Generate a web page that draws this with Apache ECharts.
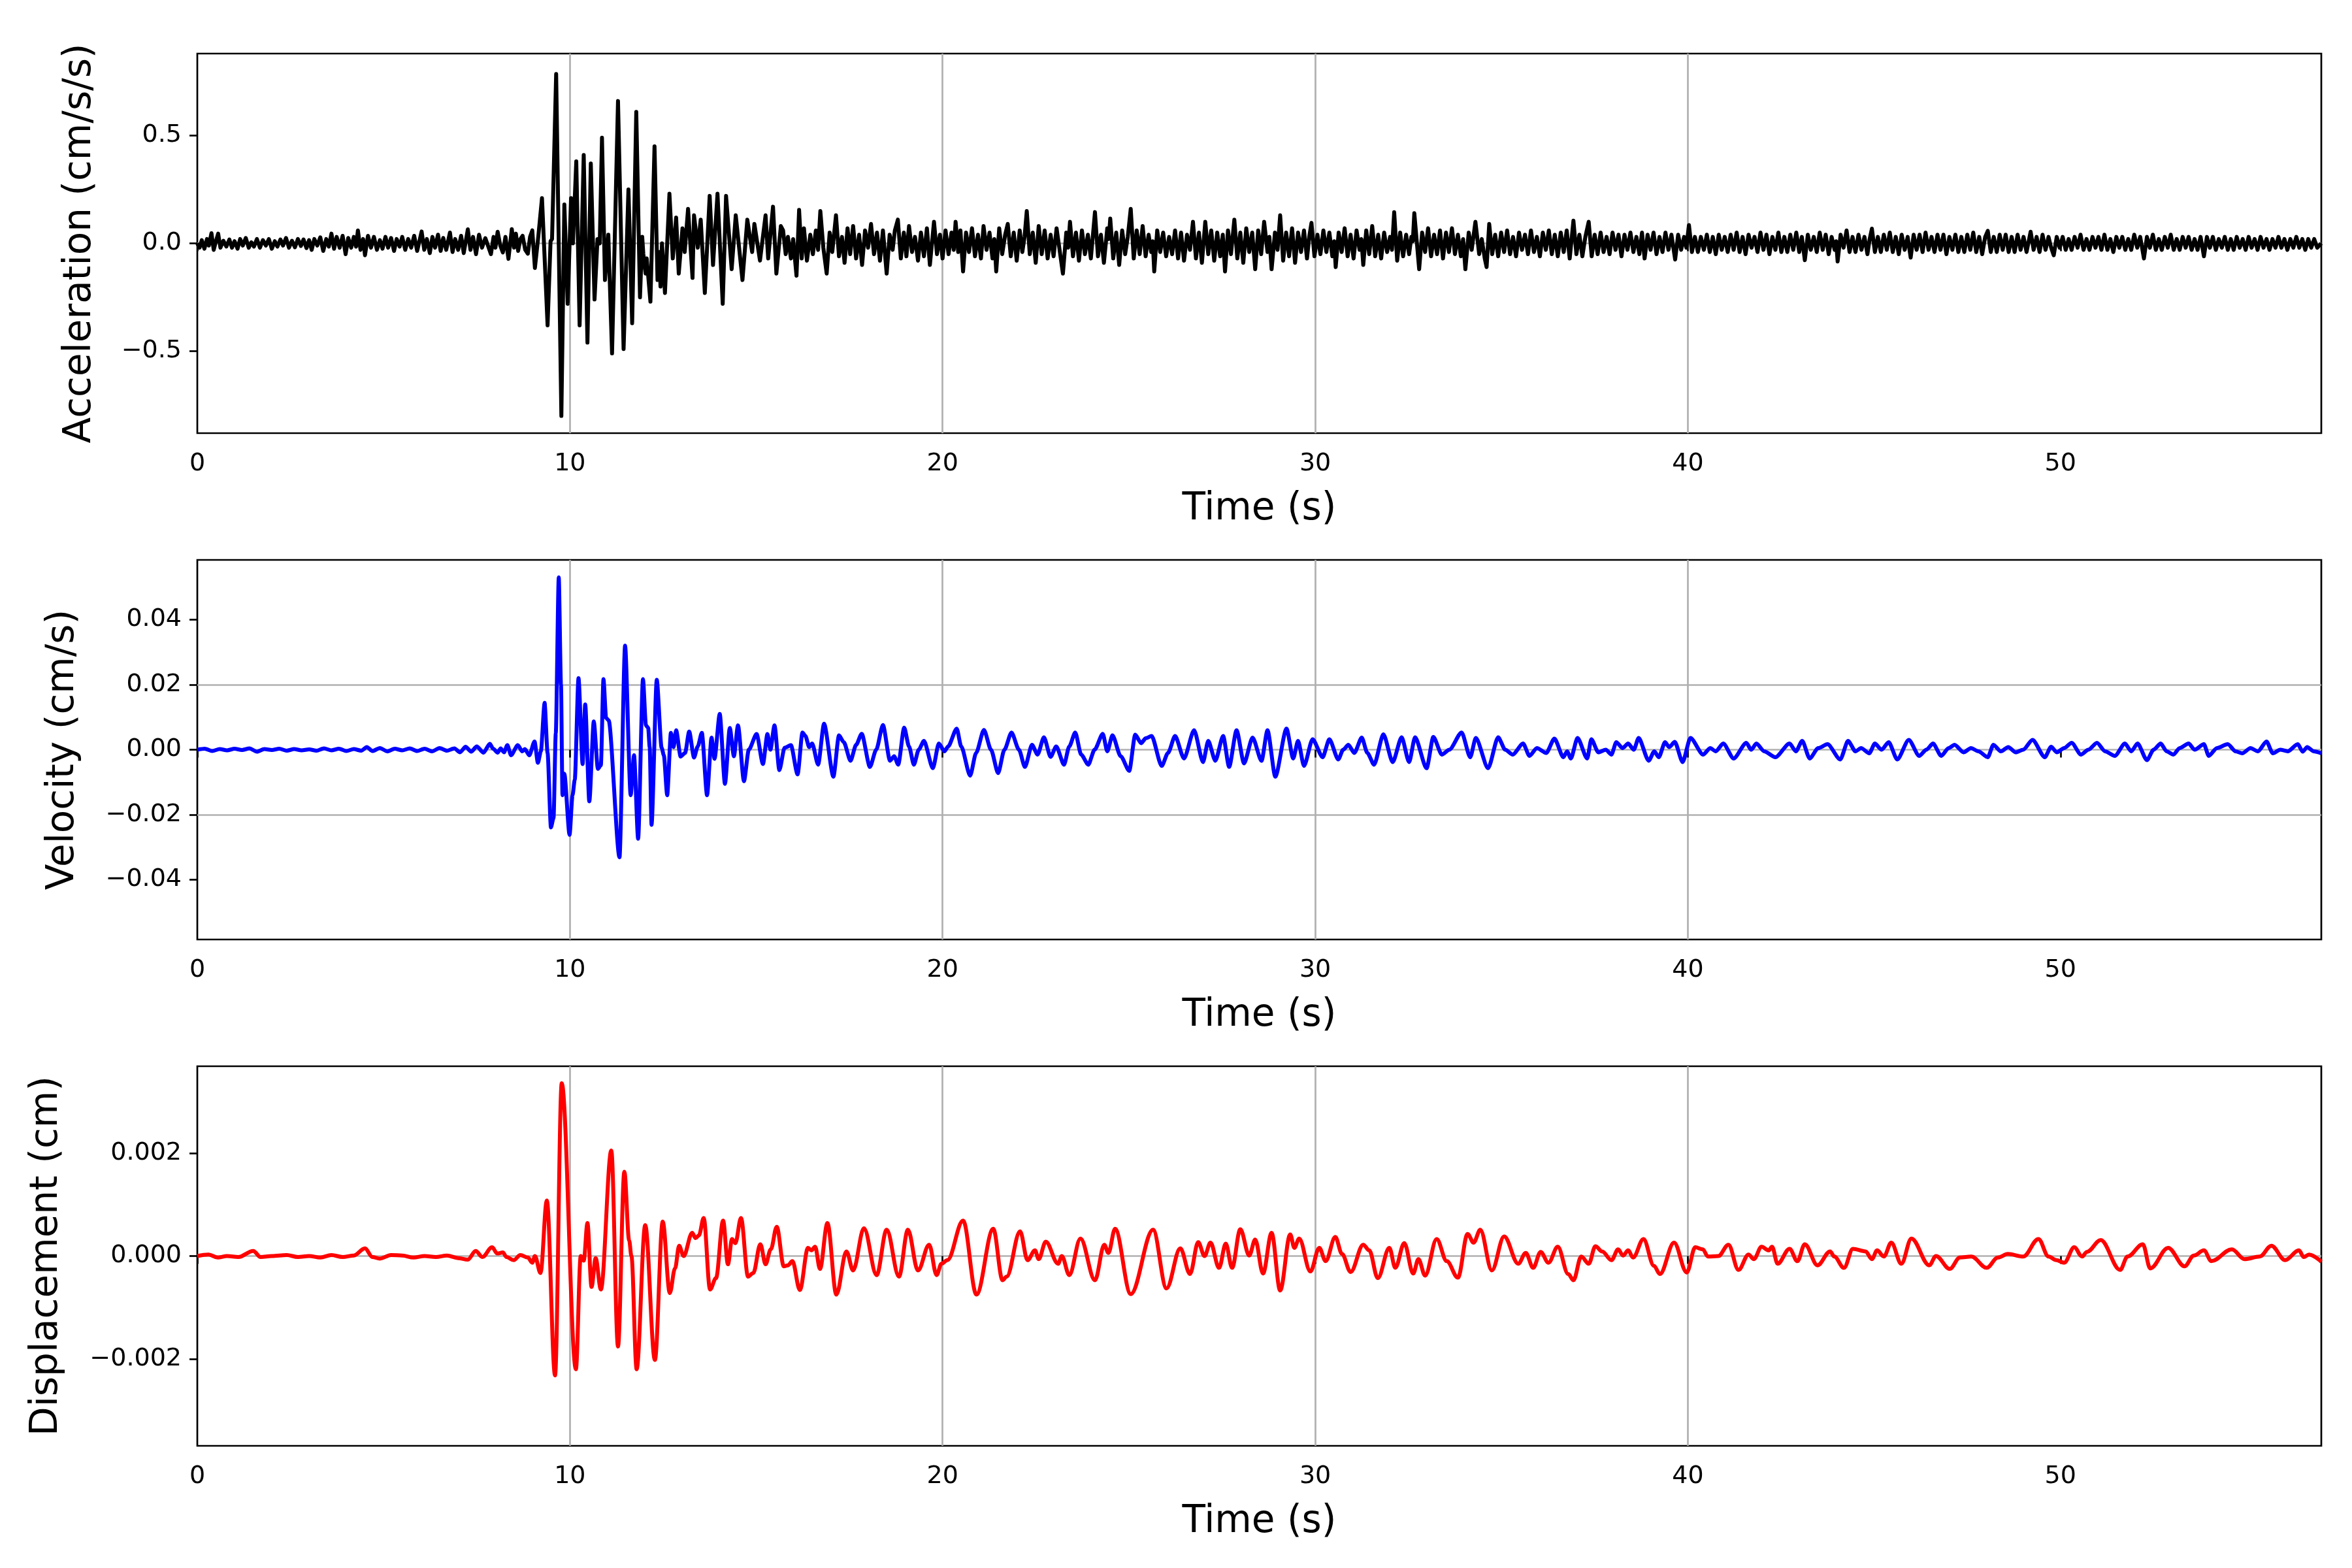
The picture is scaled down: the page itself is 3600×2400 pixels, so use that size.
<!DOCTYPE html>
<html><head><meta charset="utf-8">
<script src="https://cdn.jsdelivr.net/npm/echarts@6/dist/echarts.min.js"></script>
<style>html,body{margin:0;padding:0;background:#fff}#c{width:3600px;height:2400px}</style>
</head><body><div id="c"></div><script>
// ---- tick labels ----
const xTicks = [0,10,20,30,40,50];
const accTicks = [-0.5,0,0.5];
const velTicks = [-0.04,-0.02,0,0.02,0.04];
const dispTicks = [-0.002,0,0.002];

// ---- acceleration (cm/s/s): [time s, value] ----
const accPre = [[0,0],[0.06,-0.02],[0.12,0.015],[0.19,-0.025],[0.26,0.02],[0.31,-0.01],[0.38,0.047],[0.44,-0.03],[0.5,0.01],[0.56,0.045],[0.62,-0.02],[0.7,0.012],[0.78,-0.015],[0.86,0.018],[0.93,-0.02],[1,0.01],[1.08,-0.025],[1.15,0.02],[1.22,-0.01],[1.3,0.025],[1.38,-0.02],[1.45,0.005],[1.52,-0.015],[1.6,0.02],[1.68,-0.02],[1.76,0.015],[1.84,-0.01],[1.92,0.02],[2,-0.025],[2.08,0.01],[2.15,-0.015],[2.23,0.018],[2.3,-0.01],[2.38,0.025],[2.46,-0.02],[2.54,0.012],[2.62,-0.018],[2.7,0.02],[2.78,-0.012],[2.85,0.018],[2.93,-0.022],[3,0.015],[3.07,-0.03],[3.14,0.02],[3.22,-0.01],[3.3,0.028],[3.38,-0.035],[3.46,0.02],[3.53,-0.015],[3.6,0.045],[3.67,-0.025],[3.74,0.03],[3.82,-0.02],[3.9,0.035],[3.98,-0.05],[4.05,0.025],[4.13,-0.02],[4.2,0.03],[4.26,-0.015],[4.31,0.06],[4.38,-0.03],[4.45,0.02],[4.5,-0.055],[4.58,0.035],[4.66,-0.02],[4.74,0.03],[4.82,-0.03],[4.9,0.015],[4.97,-0.025],[5.05,0.03],[5.12,-0.02],[5.2,0.025],[5.28,-0.035],[5.35,0.02],[5.43,-0.015],[5.5,0.03],[5.58,-0.03],[5.66,0.02],[5.74,-0.02],[5.82,0.035],[5.9,-0.035],[5.96,0.01],[6.02,0.055],[6.09,-0.03],[6.16,0.02],[6.24,-0.045],[6.31,0.03],[6.38,-0.02],[6.46,0.04],[6.53,-0.035],[6.6,0.025],[6.68,-0.03],[6.78,0.05],[6.85,-0.04],[6.92,0.02],[7,-0.03],[7.08,0.035],[7.15,-0.045],[7.26,0.065],[7.33,-0.03],[7.4,0.03],[7.48,-0.05],[7.56,0.04],[7.64,-0.02],[7.73,0.024],[7.88,-0.05],[7.95,0.03],[8,-0.02],[8.06,0.054],[8.13,-0.01],[8.2,-0.042],[8.27,0.03],[8.35,-0.072],[8.44,0.066],[8.5,-0.02],[8.55,0.045],[8.61,-0.035],[8.67,0.02],[8.73,0.035],[8.8,-0.03],[8.87,-0.048],[8.93,0.03],[8.99,0.06]];
const accBurst = [[9.06,-0.114],[9.15,0.03],[9.25,0.21],[9.4,-0.38],[9.48,0.01],[9.52,0.02],[9.63,0.785],[9.77,-0.8],[9.85,0.18],[9.94,-0.28],[10.03,0.21],[10.08,0],[10.17,0.38],[10.26,-0.38],[10.37,0.41],[10.47,-0.46],[10.56,0.37],[10.66,-0.26],[10.74,0.02],[10.8,0],[10.86,0.49],[10.94,-0.17],[11.03,0.04],[11.13,-0.51],[11.29,0.66],[11.44,-0.49],[11.57,0.25],[11.67,-0.37],[11.78,0.61],[11.88,-0.25],[11.94,0.03],[11.97,-0.05],[12.03,-0.14],[12.06,-0.07],[12.16,-0.27],[12.27,0.45],[12.35,-0.17],[12.4,-0.04],[12.43,-0.2],[12.47,0],[12.55,-0.23],[12.67,0.23],[12.76,-0.07],[12.85,0.12],[12.92,-0.14],[13.02,0.07],[13.08,-0.04],[13.17,0.16],[13.29,-0.16],[13.33,0.13],[13.43,-0.02],[13.51,0.11],[13.62,-0.23],[13.75,0.22],[13.84,-0.1],[13.96,0.23],[14.1,-0.28],[14.19,0.22],[14.34,-0.12],[14.45,0.13],[14.63,-0.17],[14.76,0.11],[14.89,-0.04],[14.95,0.09],[15.1,-0.08],[15.25,0.13],[15.32,-0.07],[15.45,0.17],[15.54,-0.14],[15.66,0.08],[15.72,0.06],[15.79,-0.05],[15.85,0.03],[15.93,-0.07],[15.99,0.02],[16.08,-0.15],[16.15,0.155],[16.22,-0.07]];
const accPost = [[16.28,0.07],[16.36,-0.08],[16.45,0.04],[16.52,-0.05],[16.6,0.06],[16.66,-0.03],[16.72,0.15],[16.8,-0.02],[16.89,-0.14],[16.97,0.05],[17.04,-0.04],[17.14,0.13],[17.22,-0.06],[17.3,0.03],[17.37,-0.09],[17.45,0.07],[17.52,-0.05],[17.6,0.08],[17.68,-0.07],[17.76,0.04],[17.84,-0.1],[17.92,0.06],[18,-0.02],[18.08,0.09],[18.16,-0.05],[18.24,0.05],[18.32,-0.08],[18.4,0.06],[18.5,-0.14],[18.58,0.04],[18.66,-0.03],[18.72,0.06],[18.8,0.11],[18.88,-0.07],[18.96,0.05],[19.03,-0.06],[19.1,0.08],[19.18,-0.04],[19.26,0.03],[19.34,-0.08],[19.42,0.05],[19.5,-0.06],[19.58,0.07],[19.66,-0.1],[19.77,0.1],[19.85,-0.05],[19.93,0.04],[20,-0.07],[20.08,0.06],[20.16,-0.05],[20.24,0.05],[20.3,-0.03],[20.35,0.1],[20.42,-0.04],[20.48,0.06],[20.55,-0.13],[20.63,0.05],[20.71,-0.04],[20.79,0.07],[20.87,-0.06],[20.95,0.04],[21.03,-0.07],[21.1,0.08],[21.18,-0.03],[21.26,0.05],[21.34,-0.07],[21.39,0.02],[21.44,-0.13],[21.52,0.07],[21.6,-0.05],[21.68,0.04],[21.75,0.09],[21.83,-0.06],[21.91,0.05],[21.99,-0.08],[22.07,0.06],[22.14,-0.04],[22.2,0.03],[22.26,0.15],[22.34,-0.05],[22.42,0.05],[22.5,-0.09],[22.58,0.08],[22.66,-0.05],[22.74,0.06],[22.82,-0.07],[22.9,0.04],[22.98,-0.06],[23.06,0.07],[23.14,-0.03],[23.23,-0.14],[23.32,0.05],[23.37,-0.02],[23.42,0.1],[23.5,-0.06],[23.58,0.05],[23.66,-0.08],[23.74,0.06],[23.82,-0.05],[23.9,0.04],[23.98,-0.07],[24.09,0.145],[24.17,-0.06],[24.25,0.04],[24.33,-0.09],[24.42,0.07],[24.46,0.02],[24.5,0.115],[24.58,-0.07],[24.66,0.05],[24.74,-0.1],[24.82,0.06],[24.9,-0.05],[24.97,0.03],[25.05,0.16],[25.13,-0.07],[25.21,0.06],[25.29,-0.05],[25.37,0.08],[25.45,-0.06],[25.53,0.04],[25.6,-0.04],[25.64,0.01],[25.68,-0.13],[25.76,0.06],[25.84,-0.04],[25.92,0.05],[26,-0.06],[26.08,0.03],[26.16,-0.05],[26.24,0.06],[26.32,-0.07],[26.4,0.05],[26.48,-0.08],[26.56,0.04],[26.64,-0.03],[26.72,0.1],[26.8,-0.07],[26.88,0.05],[26.96,-0.09],[27.05,0.1],[27.13,-0.05],[27.21,0.06],[27.29,-0.08],[27.37,0.05],[27.45,-0.06],[27.52,0.04],[27.58,-0.13],[27.66,0.06],[27.74,-0.05],[27.83,0.11],[27.91,-0.07],[27.99,0.05],[28.07,-0.09],[28.15,0.07],[28.23,-0.04],[28.31,0.05],[28.39,-0.12],[28.47,0.06],[28.55,-0.05],[28.63,0.1],[28.72,-0.04],[28.77,0.03],[28.83,-0.12],[28.92,0.05],[28.99,-0.03],[29.06,0.13],[29.14,-0.08],[29.22,0.05],[29.3,-0.06],[29.38,0.07],[29.46,-0.09],[29.54,0.05],[29.62,-0.04],[29.7,0.06],[29.78,-0.07],[29.84,0.03],[29.9,0.095],[29.98,-0.06],[30.06,0.04],[30.14,-0.05],[30.22,0.06],[30.3,-0.04],[30.38,0.05],[30.46,-0.06],[30.51,0.01],[30.55,-0.11],[30.63,0.05],[30.71,-0.04],[30.79,0.07],[30.87,-0.06],[30.95,0.04],[31.03,-0.07],[31.11,0.06],[31.19,-0.03],[31.24,0.02],[31.29,-0.1],[31.37,0.06],[31.45,-0.05],[31.53,0.08],[31.61,-0.06],[31.69,0.04],[31.77,-0.07],[31.85,0.05],[31.93,-0.04],[32.01,0.03],[32.06,-0.03],[32.12,0.145],[32.2,-0.08],[32.28,0.05],[32.36,-0.06],[32.44,0.04],[32.52,-0.05],[32.58,0.03],[32.62,0.01],[32.66,0.14],[32.79,-0.12],[32.87,0.05],[32.95,-0.04],[33.03,0.07],[33.11,-0.06],[33.19,0.04],[33.27,-0.05],[33.35,0.06],[33.43,-0.07],[33.51,0.05],[33.59,-0.04],[33.67,0.07],[33.75,-0.05],[33.83,0.04],[33.91,-0.06],[33.97,0.02],[34.03,-0.12],[34.12,0.05],[34.2,-0.03],[34.3,0.1],[34.4,-0.05],[34.47,0.02],[34.55,-0.07],[34.6,-0.11],[34.67,0.09],[34.75,-0.05],[34.83,0.04],[34.91,-0.06],[34.99,0.05],[35.07,-0.04],[35.15,0.06],[35.23,-0.05],[35.31,0.03],[35.39,-0.06],[35.47,0.05],[35.55,-0.03],[35.63,0.04],[35.71,-0.05],[35.79,0.06],[35.87,-0.04],[35.95,0.03],[36.03,-0.06],[36.11,0.05],[36.19,-0.03],[36.27,0.06],[36.35,-0.05],[36.43,0.04],[36.51,-0.06],[36.59,0.05],[36.67,-0.04],[36.75,0.06],[36.83,-0.07],[36.93,0.105],[37.01,-0.05],[37.09,0.04],[37.17,-0.06],[37.25,0.03],[37.34,0.1],[37.42,-0.06],[37.5,0.04],[37.58,-0.05],[37.66,0.05],[37.74,-0.04],[37.82,0.03],[37.9,-0.05],[37.98,0.05],[38.06,-0.03],[38.14,0.04],[38.22,-0.06],[38.3,0.04],[38.38,-0.03],[38.46,0.05],[38.54,-0.04],[38.62,0.03],[38.7,-0.05],[38.77,0.05],[38.84,-0.07],[38.92,0.04],[39,-0.03],[39.08,0.05],[39.16,-0.05],[39.24,0.03],[39.32,-0.04],[39.4,0.05],[39.48,-0.03],[39.56,0.04],[39.66,-0.075],[39.74,0.04],[39.82,-0.03],[39.9,0.03],[39.96,-0.02],[40.03,0.085],[40.11,-0.04],[40.19,0.03],[40.27,-0.04],[40.35,0.03],[40.43,-0.03],[40.51,0.04],[40.59,-0.04],[40.67,0.03],[40.75,-0.05],[40.83,0.04],[40.91,-0.03],[40.99,0.03],[41.07,-0.04],[41.15,0.04],[41.23,-0.03],[41.31,0.05],[41.39,-0.04],[41.47,0.03],[41.55,-0.05],[41.63,0.04],[41.71,-0.02],[41.79,0.03],[41.87,-0.04],[41.95,0.05],[42.03,-0.03],[42.11,0.04],[42.19,-0.05],[42.27,0.03],[42.35,-0.03],[42.43,0.05],[42.51,-0.04],[42.59,0.03],[42.67,-0.04],[42.75,0.04],[42.83,-0.03],[42.91,0.05],[42.99,-0.04],[43.06,0.03],[43.14,-0.078],[43.22,0.04],[43.3,-0.03],[43.38,0.03],[43.46,-0.04],[43.54,0.05],[43.62,-0.03],[43.7,0.04],[43.78,-0.05],[43.86,0.03],[43.94,-0.03],[43.98,0.01],[44.02,-0.084],[44.1,0.04],[44.18,-0.02],[44.26,0.06],[44.34,-0.04],[44.42,0.03],[44.5,-0.04],[44.58,0.04],[44.66,-0.03],[44.74,0.03],[44.82,-0.05],[44.88,0.02],[44.94,0.068],[45.02,-0.04],[45.1,0.03],[45.18,-0.04],[45.26,0.04],[45.34,-0.03],[45.42,0.05],[45.5,-0.04],[45.58,0.03],[45.66,-0.05],[45.74,0.04],[45.82,-0.03],[45.9,0.03],[45.98,-0.066],[46.06,0.04],[46.14,-0.03],[46.22,0.04],[46.3,-0.04],[46.38,0.05],[46.46,-0.03],[46.54,0.03],[46.62,-0.04],[46.7,0.04],[46.78,-0.03],[46.86,0.04],[46.94,-0.05],[47.02,0.03],[47.1,-0.03],[47.18,0.04],[47.26,-0.04],[47.34,0.03],[47.42,-0.04],[47.5,0.04],[47.58,-0.03],[47.66,0.05],[47.74,-0.04],[47.82,0.03],[47.9,-0.05],[47.98,0.03],[48.05,0.058],[48.13,-0.04],[48.21,0.03],[48.29,-0.04],[48.37,0.04],[48.45,-0.03],[48.53,0.04],[48.61,-0.04],[48.69,0.03],[48.77,-0.04],[48.85,0.04],[48.93,-0.03],[49.01,0.03],[49.09,-0.04],[49.2,0.054],[49.28,-0.03],[49.36,0.03],[49.44,-0.04],[49.52,0.04],[49.6,-0.03],[49.68,0.03],[49.75,-0.02],[49.82,-0.055],[49.9,0.03],[49.98,-0.02],[50.06,0.03],[50.14,-0.03],[50.22,0.02],[50.3,-0.03],[50.38,0.03],[50.46,-0.02],[50.54,0.04],[50.62,-0.03],[50.7,0.02],[50.78,-0.03],[50.86,0.03],[50.94,-0.02],[51.02,0.03],[51.1,-0.03],[51.18,0.04],[51.26,-0.03],[51.34,0.02],[51.42,-0.04],[51.5,0.03],[51.58,-0.02],[51.66,0.03],[51.74,-0.03],[51.82,0.02],[51.9,-0.03],[51.98,0.04],[52.06,-0.02],[52.14,0.03],[52.24,-0.07],[52.32,0.03],[52.4,-0.02],[52.48,0.04],[52.56,-0.03],[52.64,0.02],[52.72,-0.03],[52.8,0.03],[52.88,-0.02],[52.96,0.04],[53.04,-0.03],[53.12,0.02],[53.2,-0.03],[53.28,0.03],[53.36,-0.02],[53.44,0.03],[53.52,-0.03],[53.6,0.02],[53.68,-0.03],[53.76,0.03],[53.85,-0.06],[53.93,0.03],[54.01,-0.02],[54.09,0.03],[54.17,-0.03],[54.25,0.02],[54.33,-0.02],[54.41,0.03],[54.49,-0.03],[54.57,0.02],[54.65,-0.03],[54.73,0.03],[54.81,-0.02],[54.89,0.02],[54.97,-0.03],[55.05,0.03],[55.13,-0.02],[55.21,0.02],[55.29,-0.03],[55.37,0.03],[55.45,-0.02],[55.53,0.02],[55.61,-0.03],[55.69,0.02],[55.77,-0.02],[55.85,0.03],[55.93,-0.02],[56.01,0.02],[56.09,-0.03],[56.17,0.02],[56.25,-0.02],[56.33,0.03],[56.41,-0.02],[56.49,0.02],[56.57,-0.03],[56.65,0.02],[56.73,-0.02],[56.81,0.02],[56.89,-0.02],[57,0]];

// ---- velocity (cm/s) ----
const velPre = [[0,0],[0.2,0.0003],[0.4,-0.0004],[0.6,0.0002],[0.8,-0.0002],[1,0.0003],[1.2,-0.0001],[1.4,0.0004],[1.6,-0.0006],[1.8,0.0002],[2,-0.0001],[2.2,0.0003],[2.4,-0.0003],[2.6,0.0002],[2.8,-0.0002],[3,0.0001],[3.2,-0.0003],[3.4,0.0004],[3.6,-0.0002],[3.8,0.0003],[4,-0.0004],[4.2,0.0002],[4.4,-0.0003],[4.55,0.0008],[4.7,-0.0004],[4.9,0.0005],[5.1,-0.0005],[5.3,0.0003],[5.5,-0.0002],[5.7,0.0004],[5.9,-0.0004],[6.1,0.0003],[6.3,-0.0005],[6.5,0.0005],[6.7,-0.0003],[6.9,0.0004],[7.05,-0.0008],[7.2,0.0009],[7.35,-0.0006],[7.5,0.001],[7.68,-0.0009],[7.85,0.0018],[7.94,0.0003],[8.06,-0.0009],[8.14,0.0004],[8.23,-0.0008],[8.32,0.0014],[8.42,-0.0017],[8.6,0.0014],[8.72,-0.0005],[8.79,0.0002],[8.91,-0.0017],[9.05,0.0025],[9.14,-0.004]];
const velBurst = [[9.22,-0.0005],[9.32,0.0144],[9.4,-0.001],[9.49,-0.0239],[9.56,-0.021],[9.62,0.005],[9.7,0.053],[9.76,0.02],[9.8,-0.014],[9.85,-0.0074],[9.99,-0.0262],[10.07,-0.014],[10.13,-0.0092],[10.23,0.022],[10.34,-0.0044],[10.41,0.0139],[10.52,-0.0159],[10.64,0.0087],[10.75,-0.0059],[10.83,-0.0048],[10.9,0.0217],[10.97,0.0098],[11.04,0.009],[11.33,-0.0331],[11.48,0.032],[11.63,-0.014],[11.72,-0.0017],[11.83,-0.0274],[11.96,0.0217],[12.04,0.0075],[12.1,0.0067],[12.14,0.0008],[12.19,-0.0231],[12.33,0.0215],[12.46,0.0006],[12.52,-0.0017],[12.61,-0.014],[12.71,0.0052],[12.78,0.0008],[12.85,0.006],[12.97,-0.0021],[13.09,-0.001],[13.2,0.0056],[13.33,-0.0024],[13.43,0.001],[13.54,0.0052],[13.68,-0.014],[13.8,0.0037],[13.88,-0.0028],[14.02,0.011],[14.16,-0.0105],[14.29,0.0067],[14.4,-0.002],[14.51,0.0075],[14.67,-0.0097],[14.8,0],[15.01,0.0048],[15.18,-0.0044],[15.3,0.0048],[15.38,0],[15.49,0.0075],[15.62,-0.0063],[15.76,0.0006],[15.93,0.0014],[16.11,-0.0076],[16.24,0.0053]];
const velPost = [[16.32,0.0042],[16.42,0.0008],[16.5,0.0019],[16.66,-0.0046],[16.82,0.008],[17.07,-0.0083],[17.22,0.0044],[17.35,0.0023],[17.53,-0.0034],[17.68,0.0015],[17.83,0.0049],[18.05,-0.0053],[18.22,0],[18.4,0.0076],[18.59,-0.0034],[18.7,-0.002],[18.81,-0.0046],[18.97,0.0068],[19.1,0.001],[19.23,-0.0046],[19.36,0],[19.5,0.0027],[19.74,-0.0057],[19.9,0.0019],[20.05,-0.0005],[20.15,0.001],[20.38,0.0065],[20.5,0.001],[20.74,-0.008],[20.9,-0.001],[21.11,0.0061],[21.3,0],[21.49,-0.0072],[21.66,0],[21.85,0.0053],[22.05,0],[22.21,-0.0053],[22.4,0.0015],[22.55,-0.0015],[22.72,0.0038],[22.9,-0.0022],[23.05,0.001],[23.26,-0.0046],[23.4,0.001],[23.56,0.0053],[23.72,-0.0015],[23.91,-0.0046],[24.08,0],[24.3,0.0049],[24.42,-0.0005],[24.56,0.0044],[24.78,-0.002],[25.01,-0.0065],[25.17,0.0046],[25.33,0.002],[25.45,0.0035],[25.61,0.0042],[25.88,-0.005],[26.05,-0.001],[26.24,0.0042],[26.48,-0.0027],[26.75,0.006],[26.99,-0.0038],[27.13,0.0027],[27.32,-0.0034],[27.53,0.0042],[27.69,-0.0053],[27.89,0.006],[28.09,-0.0042],[28.32,0.0037],[28.56,-0.0034],[28.72,0.006],[28.93,-0.0083],[29.23,0.0065],[29.41,-0.0027],[29.54,0.0027],[29.7,-0.005],[29.93,0.0032],[30.2,-0.0023],[30.38,0.0032],[30.62,-0.003],[30.75,0],[30.89,0.0015],[31.05,-0.001],[31.25,0.0037],[31.4,-0.001],[31.58,-0.0046],[31.83,0.0047],[32.08,-0.0038],[32.32,0.0038],[32.52,-0.0038],[32.68,0.0038],[32.99,-0.0057],[33.17,0.0039],[33.4,-0.0015],[33.6,0],[33.93,0.0053],[34.16,-0.0023],[34.31,0.0036],[34.64,-0.0057],[34.91,0.0038],[35.1,0],[35.3,-0.0015],[35.58,0.0019],[35.75,-0.0019],[35.95,0.0005],[36.2,-0.001],[36.42,0.0034],[36.66,-0.0023],[36.76,-0.0005],[36.86,-0.0027],[37.04,0.0036],[37.3,-0.0027],[37.41,0.0032],[37.6,-0.0008],[37.8,0],[37.95,-0.0015],[38.08,0.0023],[38.25,0.0005],[38.4,0.0019],[38.55,0],[38.68,0.0036],[38.95,-0.0034],[39.1,-0.0005],[39.22,-0.0023],[39.39,0.0023],[39.5,0.0008],[39.65,0.0024],[39.86,-0.0038],[40.07,0.0036],[40.41,-0.0015],[40.6,0.0005],[40.75,-0.0005],[40.95,0.0019],[41.23,-0.0027],[41.57,0.0021],[41.7,0],[41.84,0.0019],[42.05,-0.0005],[42.35,-0.0023],[42.73,0.0019],[42.9,-0.0005],[43.07,0.0027],[43.27,-0.0027],[43.5,0.0005],[43.75,0.0017],[44.09,-0.003],[44.3,0.0027],[44.5,-0.0005],[44.65,0.0005],[44.87,-0.0011],[45.02,0.0019],[45.2,0],[45.39,0.0023],[45.62,-0.003],[45.93,0.003],[46.21,-0.0019],[46.4,0],[46.58,0.0019],[46.8,-0.0019],[47,0.0005],[47.16,0.0015],[47.4,-0.0008],[47.6,0.0005],[47.8,-0.0005],[48.05,-0.0023],[48.2,0.0015],[48.4,-0.0005],[48.6,0.0008],[48.8,-0.0008],[49,0],[49.25,0.003],[49.58,-0.0023],[49.75,0.0009],[49.9,-0.0008],[50.1,0.0005],[50.3,0.0021],[50.55,-0.0015],[50.75,0],[50.98,0.0021],[51.2,-0.0005],[51.46,-0.0019],[51.73,0.0019],[51.9,-0.0005],[52.07,0.0019],[52.32,-0.0032],[52.5,0],[52.69,0.0019],[52.85,-0.0005],[53.03,-0.0015],[53.2,0.0005],[53.44,0.0019],[53.6,0],[53.85,0.0017],[53.98,-0.0019],[54.2,0.0005],[54.49,0.0017],[54.7,-0.0005],[54.88,-0.0011],[55.1,0.0005],[55.3,-0.0005],[55.53,0.0025],[55.7,-0.0011],[55.9,0],[56.1,-0.0005],[56.37,0.0017],[56.5,-0.0006],[56.62,0.0008],[56.8,-0.0005],[57,-0.0011]];

// ---- displacement (cm) ----
const dispPre = [[0,0],[0.3,0.00003],[0.55,-0.00003],[0.8,0],[1.1,-0.00002],[1.5,0.0001],[1.7,-0.00002],[2,0],[2.4,0.00002],[2.7,-0.00002],[3,0],[3.3,-0.00003],[3.6,0.00002],[3.9,-0.00002],[4.2,0.00001],[4.5,0.00015],[4.7,-0.00002],[4.9,-0.00005],[5.2,0.00002],[5.5,0.00001],[5.8,-0.00003],[6.1,0],[6.4,-0.00002],[6.7,0.00001],[7,-0.00004],[7.26,-0.00007],[7.47,0.0001],[7.65,-0.00002],[7.91,0.00017],[8.05,0.00005],[8.2,0.00007],[8.3,-0.00002],[8.49,-0.00008],[8.67,0.00002],[8.87,-0.00003],[8.99,-0.00013],[9.06,0],[9.21,-0.00033]];
const dispBurst = [[9.38,0.00108],[9.6,-0.00232],[9.78,0.00336],[10.16,-0.0022],[10.29,0],[10.37,-0.00009],[10.47,0.00064],[10.58,-0.0006],[10.69,-0.00004],[10.83,-0.00065],[11.11,0.00205],[11.29,-0.00176],[11.46,0.00164],[11.59,0.0003],[11.65,0],[11.79,-0.0022],[12.02,0.0006],[12.28,-0.00202],[12.49,0.00067],[12.68,-0.00072],[12.82,-0.00024],[12.93,0.0002],[13.05,0],[13.28,0.00045],[13.37,0.00035],[13.46,0.0004],[13.59,0.00074],[13.76,-0.00065],[13.92,-0.00043],[14.11,0.00069],[14.24,-0.00016],[14.35,0.00033],[14.44,0.00025],[14.59,0.00074],[14.78,-0.0004],[14.92,-0.00033],[15.11,0.00023],[15.25,-0.00016],[15.39,0.00013],[15.55,0.00057],[15.74,-0.0002],[15.85,-0.00018],[15.97,-0.0001],[16.17,-0.00066],[16.39,0.00016]];
const dispPost = [[16.48,0.00011],[16.58,0.00018],[16.71,-0.00025],[16.91,0.00064],[17.15,-0.00075],[17.42,0.00009],[17.6,-0.00028],[17.89,0.00054],[18.23,-0.00037],[18.5,0.00051],[18.83,-0.0004],[19.07,0.00051],[19.34,-0.00028],[19.64,0.00022],[19.84,-0.00037],[19.97,-0.00015],[20.13,-0.00008],[20.55,0.00069],[20.91,-0.00075],[21.36,0.00053],[21.61,-0.00047],[21.72,-0.0004],[22.08,0.00048],[22.28,-0.00008],[22.48,0.00011],[22.58,-0.00006],[22.77,0.00028],[23.1,-0.00015],[23.2,0],[23.4,-0.00037],[23.7,0.00034],[24.09,-0.00047],[24.34,0.00022],[24.45,0.00006],[24.63,0.00053],[25.05,-0.00074],[25.65,0.00051],[26.01,-0.00063],[26.38,0.00015],[26.64,-0.00035],[26.86,0.00027],[27.03,0],[27.19,0.00026],[27.42,-0.00023],[27.6,0.00024],[27.77,-0.00023],[27.99,0.00052],[28.23,0.00001],[28.39,0.00032],[28.6,-0.00034],[28.83,0.00045],[29.06,-0.00067],[29.33,0.00042],[29.44,0.00016],[29.57,0.00034],[29.87,-0.0003],[30.11,0.00016],[30.28,-0.0001],[30.54,0.00037],[30.72,0.00004],[30.95,-0.00031],[31.29,0.00022],[31.45,0.00011],[31.68,-0.00043],[31.99,0.00016],[32.15,-0.00023],[32.39,0.00025],[32.63,-0.00034],[32.77,-0.00006],[32.95,-0.00038],[33.26,0.00033],[33.53,-0.0001],[33.83,-0.00042],[34.09,0.00043],[34.25,0.00026],[34.43,0.00051],[34.74,-0.00028],[35.07,0.00038],[35.45,-0.00015],[35.65,0.00006],[35.85,-0.00023],[36.05,0.00008],[36.26,-0.00013],[36.51,0.00018],[36.79,-0.00035],[36.93,-0.00047],[37.14,-0.00001],[37.34,-0.00015],[37.52,0.00019],[37.7,0.00009],[37.95,-0.00008],[38.13,0.00013],[38.26,0.00001],[38.4,0.00011],[38.53,-0.00003],[38.81,0.00033],[39.09,-0.00019],[39.25,-0.00035],[39.63,0.00026],[39.97,-0.00032],[40.2,0.00017],[40.4,0.00013],[40.54,-0.00001],[40.82,0],[41.09,0.00022],[41.36,-0.00027],[41.63,0.00003],[41.77,-0.00006],[41.98,0.00018],[42.17,0.00011],[42.26,0.00018],[42.41,-0.00015],[42.73,0.00014],[42.94,-0.0001],[43.14,0.00023],[43.48,-0.00018],[43.82,0.00009],[43.93,-0.00001],[44.19,-0.00023],[44.43,0.00014],[44.77,0.00009],[44.94,-0.00006],[45.08,0.00011],[45.26,-0.00001],[45.46,0.00026],[45.73,-0.00015],[46,0.00034],[46.48,-0.00018],[46.66,0],[47.03,-0.00025],[47.3,-0.00003],[47.61,-0.00001],[48.02,-0.00023],[48.32,-0.00003],[48.59,0.00004],[49,-0.00001],[49.41,0.00033],[49.68,-0.00001],[49.89,-0.00008],[50.1,-0.00013],[50.37,0.00017],[50.58,-0.00001],[50.71,0.00008],[51.08,0.00031],[51.6,-0.00027],[51.8,-0.00001],[52.21,0.00023],[52.41,-0.00024],[52.89,0.00016],[53.33,-0.0002],[53.58,0.00001],[53.85,0.00011],[54.05,-0.0001],[54.6,0.00013],[54.94,-0.00006],[55.35,-0.00001],[55.66,0.0002],[56.03,-0.00008],[56.4,0.00011],[56.53,-0.00002],[56.67,0.00003],[57,-0.00011]];

const accData = accPre.concat(accBurst, accPost);
const velData = velPre.concat(velBurst, velPost);
const dispData = dispPre.concat(dispBurst, dispPost);

const FONT = 'DejaVu Sans';
const minus = s => s.replace('-', '\u2212');
const tops = [82, 857, 1632];
const H = 581;
const panels = [
  {name:'Acceleration (cm/s/s)', lim:0.88, ticks:accTicks, dec:1, gap:150, split:4, data:accData, color:'#000000', smooth:false},
  {name:'Velocity (cm/s)', lim:0.0584, ticks:velTicks, dec:2, gap:176, split:5, data:velData, color:'#0000ff', smooth:0.25},
  {name:'Displacement (cm)', lim:0.00369, ticks:dispTicks, dec:3, gap:201, split:4, data:dispData, color:'#ff0000', smooth:0.35}
];
const tickStyle = {show:true, inside:false, length:12, lineStyle:{color:'#000', width:2.7}};
const splitStyle = {show:true, showMinLine:false, showMaxLine:false, lineStyle:{color:'#b0b0b0', width:2.7}};
const option = {
  animation:false,
  backgroundColor:'#ffffff',
  grid: panels.map((p,i)=>({left:302, right:47, top:tops[i], height:H, show:true, borderColor:'#000', borderWidth:2.7, backgroundColor:'transparent', containLabel:false, outerBoundsMode:'none'})),
  xAxis: panels.map((p,i)=>({
    type:'value', gridIndex:i, min:0, max:57, splitNumber:5,
    axisLine:{show:false},
    axisTick:Object.assign({customValues:xTicks}, tickStyle),
    axisLabel:{customValues:xTicks, margin:28, fontSize:38, color:'#000', fontFamily:FONT, formatter:v=>minus(String(v))},
    splitLine:splitStyle,
    name:'Time (s)', nameLocation:'middle', nameGap:88,
    nameTextStyle:{fontSize:58, color:'#000', fontFamily:FONT}
  })),
  yAxis: panels.map((p,i)=>({
    type:'value', gridIndex:i, min:-p.lim, max:p.lim, splitNumber:p.split,
    axisLine:{show:false},
    axisTick:Object.assign({customValues:p.ticks}, tickStyle),
    axisLabel:{customValues:p.ticks, margin:24, fontSize:38, color:'#000', fontFamily:FONT, formatter:v=>minus(Number(v).toFixed(p.dec))},
    splitLine:splitStyle,
    name:p.name, nameLocation:'middle', nameGap:p.gap, nameRotate:90,
    nameTextStyle:{fontSize:58, color:'#000', fontFamily:FONT}
  })),
  series: panels.map((p,i)=>({
    type:'line', xAxisIndex:i, yAxisIndex:i, data:p.data,
    showSymbol:false, symbol:'none', smooth:p.smooth, smoothMonotone:'x',
    lineStyle:{color:p.color, width:6, join:'round'},
    emphasis:{disabled:true}, silent:true, z:3
  }))
};
const chart = echarts.init(document.getElementById('c'), null, {renderer:'canvas', width:3600, height:2400});
chart.setOption(option);
</script></body></html>
